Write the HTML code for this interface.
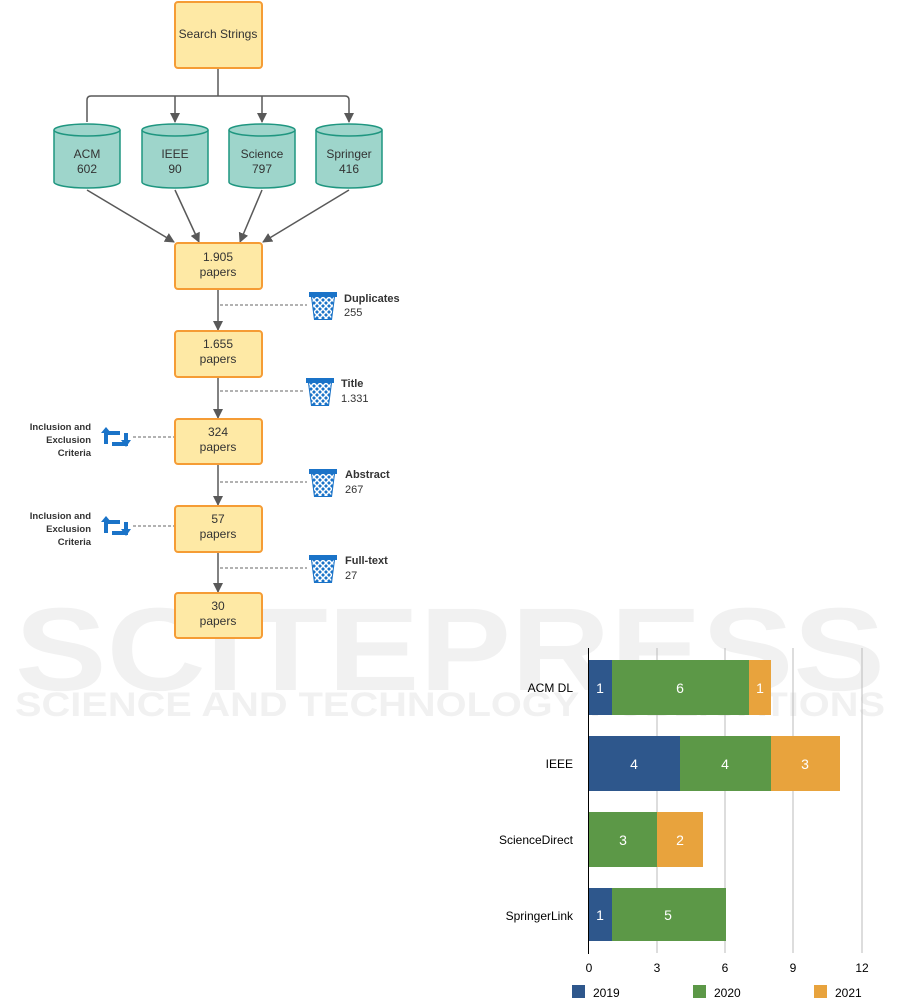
<!DOCTYPE html>
<html><head><meta charset="utf-8"><style>
html,body{margin:0;padding:0;background:#fff;}
svg{display:block;font-family:"Liberation Sans",sans-serif;}
</style></head><body>
<svg width="901" height="998" viewBox="0 0 901 998" xmlns="http://www.w3.org/2000/svg">
<defs>
<marker id="ar" markerWidth="10" markerHeight="10" refX="9" refY="5" orient="auto" markerUnits="userSpaceOnUse"><path d="M0,0 L10,5 L0,10 z" fill="#595959"/></marker>
<clipPath id="tc"><path d="M3,5 H25 L22,27 H6 z"/></clipPath>
<g id="trash">
<path d="M0,0 H28 V5 H26 L23,28 H5 L2,5 H0 z" fill="#1a73c8"/>
<g clip-path="url(#tc)" stroke="#fff" stroke-width="1.5">
<path d="M-10,5 L15,30 M-4,5 L21,30 M2,5 L27,30 M8,5 L33,30 M14,5 L39,30 M20,5 L45,30"/>
<path d="M38,5 L13,30 M32,5 L7,30 M26,5 L1,30 M20,5 L-5,30 M14,5 L-11,30 M8,5 L-17,30"/>
</g>
</g>
<g id="cyc" fill="#1a73c8">
<path d="M2,4 H18 V8 H6 V17 H2 z"/>
<path d="M-1,6 L4,0 L9,6 z"/>
<path d="M26,19 H10 V15 H22 V6 H26 z"/>
<path d="M19,13 L24,20 L29,13 z"/>
</g>
</defs>
<!-- watermark -->
<g fill="#f1f1f1" font-weight="bold">
<text x="15" y="690" font-size="118" textLength="870" lengthAdjust="spacingAndGlyphs">SCITEPRESS</text>
<text x="15" y="716" font-size="34" textLength="870" lengthAdjust="spacingAndGlyphs">SCIENCE AND TECHNOLOGY PUBLICATIONS</text>
</g>
<!-- flowchart connectors -->
<g stroke="#595959" stroke-width="1.5" fill="none">
<path d="M218,68 V96"/>
<path d="M87,122 V100 Q87,96 91,96 H345 Q349,96 349,100 V122" marker-end="url(#ar)"/>
<path d="M175,96 V122" marker-end="url(#ar)"/>
<path d="M262,96 V122" marker-end="url(#ar)"/>
<path d="M87,190 L174,242" marker-end="url(#ar)"/>
<path d="M175,190 L199,242" marker-end="url(#ar)"/>
<path d="M262,190 L240,242" marker-end="url(#ar)"/>
<path d="M349,190 L263,242" marker-end="url(#ar)"/>
<path d="M218,289 V330" marker-end="url(#ar)"/>
<path d="M218,377 V418" marker-end="url(#ar)"/>
<path d="M218,464 V505" marker-end="url(#ar)"/>
<path d="M218,552 V592" marker-end="url(#ar)"/>
</g>
<g stroke="#666" stroke-width="1" stroke-dasharray="3,2" fill="none">
<path d="M220,305 H307"/><path d="M220,391 H303"/><path d="M220,482 H307"/><path d="M220,568 H307"/>
<path d="M133,437 H174"/><path d="M133,526 H174"/>
</g>
<!-- boxes -->
<g fill="#fee9a5" stroke="#f59c35" stroke-width="2">
<rect x="175" y="2" width="87" height="66" rx="3"/>
<rect x="175" y="243" width="87" height="46" rx="3"/>
<rect x="175" y="331" width="87" height="46" rx="3"/>
<rect x="175" y="419" width="87" height="45" rx="3"/>
<rect x="175" y="506" width="87" height="46" rx="3"/>
<rect x="175" y="593" width="87" height="45" rx="3"/>
</g>
<g font-size="12" fill="#333" text-anchor="middle">
<text x="218" y="38">Search Strings</text>
<text x="218" y="261">1.905</text><text x="218" y="276">papers</text>
<text x="218" y="348">1.655</text><text x="218" y="363">papers</text>
<text x="218" y="436">324</text><text x="218" y="451">papers</text>
<text x="218" y="523">57</text><text x="218" y="538">papers</text>
<text x="218" y="610">30</text><text x="218" y="625">papers</text>
</g>
<!-- cylinders -->
<g fill="#9ed5cb" stroke="#1f9680" stroke-width="1.5">
<path d="M54,130 V182 A33,6 0 0 0 120,182 V130"/><ellipse cx="87" cy="130" rx="33" ry="6"/>
<path d="M142,130 V182 A33,6 0 0 0 208,182 V130"/><ellipse cx="175" cy="130" rx="33" ry="6"/>
<path d="M229,130 V182 A33,6 0 0 0 295,182 V130"/><ellipse cx="262" cy="130" rx="33" ry="6"/>
<path d="M316,130 V182 A33,6 0 0 0 382,182 V130"/><ellipse cx="349" cy="130" rx="33" ry="6"/>
</g>
<g font-size="12" fill="#333" text-anchor="middle">
<text x="87" y="158">ACM</text><text x="87" y="173">602</text>
<text x="175" y="158">IEEE</text><text x="175" y="173">90</text>
<text x="262" y="158">Science</text><text x="262" y="173">797</text>
<text x="349" y="158">Springer</text><text x="349" y="173">416</text>
</g>
<!-- trash icons -->
<use href="#trash" x="309" y="292"/>
<use href="#trash" x="306" y="378"/>
<use href="#trash" x="309" y="469"/>
<use href="#trash" x="309" y="555"/>
<g font-size="11" fill="#333">
<text x="344" y="302" font-weight="bold">Duplicates</text><text x="344" y="316">255</text>
<text x="341" y="387" font-weight="bold">Title</text><text x="341" y="402">1.331</text>
<text x="345" y="478" font-weight="bold">Abstract</text><text x="345" y="493">267</text>
<text x="345" y="564" font-weight="bold">Full-text</text><text x="345" y="579">27</text>
</g>
<use href="#cyc" x="102" y="427"/>
<use href="#cyc" x="102" y="516"/>
<g font-size="9.5" fill="#333" font-weight="bold" text-anchor="end">
<text x="91" y="430">Inclusion and</text><text x="91" y="443">Exclusion</text><text x="91" y="456">Criteria</text>
<text x="91" y="519">Inclusion and</text><text x="91" y="532">Exclusion</text><text x="91" y="545">Criteria</text>
</g>
<!-- chart -->
<g stroke="#bbb" stroke-width="1">
<path d="M657,648 V953 M725,648 V953 M793,648 V953 M862,648 V953"/>
</g>
<g>
<rect x="589" y="660" width="23" height="55" fill="#2e578c"/>
<rect x="612" y="660" width="137" height="55" fill="#5c9847"/>
<rect x="749" y="660" width="22" height="55" fill="#e8a33d"/>
<rect x="589" y="736" width="91" height="55" fill="#2e578c"/>
<rect x="680" y="736" width="91" height="55" fill="#5c9847"/>
<rect x="771" y="736" width="69" height="55" fill="#e8a33d"/>
<rect x="589" y="812" width="68" height="55" fill="#5c9847"/>
<rect x="657" y="812" width="46" height="55" fill="#e8a33d"/>
<rect x="589" y="888" width="23" height="53" fill="#2e578c"/>
<rect x="612" y="888" width="114" height="53" fill="#5c9847"/>
</g>
<path d="M588.5,648 V954" stroke="#000" stroke-width="1"/>
<g font-size="14" fill="#fff" text-anchor="middle">
<text x="600" y="693">1</text><text x="680" y="693">6</text><text x="760" y="693">1</text>
<text x="634" y="769">4</text><text x="725" y="769">4</text><text x="805" y="769">3</text>
<text x="623" y="845">3</text><text x="680" y="845">2</text>
<text x="600" y="920">1</text><text x="668" y="920">5</text>
</g>
<g font-size="12" fill="#000" text-anchor="end">
<text x="573" y="692">ACM DL</text><text x="573" y="768">IEEE</text>
<text x="573" y="844">ScienceDirect</text><text x="573" y="920">SpringerLink</text>
</g>
<g font-size="12" fill="#000" text-anchor="middle">
<text x="589" y="972">0</text><text x="657" y="972">3</text><text x="725" y="972">6</text><text x="793" y="972">9</text><text x="862" y="972">12</text>
</g>
<rect x="572" y="985" width="13" height="13" fill="#2e578c"/>
<rect x="693" y="985" width="13" height="13" fill="#5c9847"/>
<rect x="814" y="985" width="13" height="13" fill="#e8a33d"/>
<g font-size="12" fill="#000">
<text x="593" y="997">2019</text><text x="714" y="997">2020</text><text x="835" y="997">2021</text>
</g>
</svg>
</body></html>
